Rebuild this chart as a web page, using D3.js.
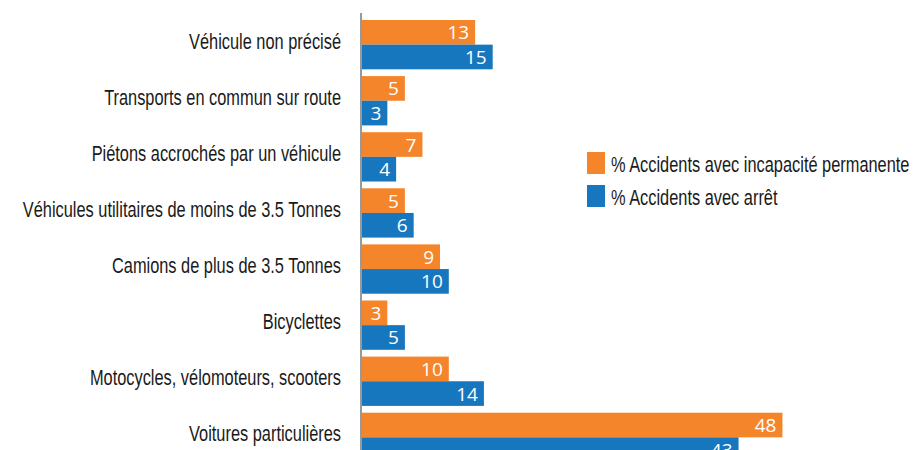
<!DOCTYPE html>
<html>
<head>
<meta charset="utf-8">
<script src="https://cdn.jsdelivr.net/npm/d3@7"></script>
<style>
  body { margin: 0; background: #fff; }
  svg { display: block; }
  .cat-label { font-family: "Liberation Sans", Arial, sans-serif; fill: #1a1a1a; }
  .value-label { font-family: "Open Sans", sans-serif; fill: #fff; }
  .legend-label { font-family: "Liberation Sans", Arial, sans-serif; fill: #1a1a1a; }
</style>
</head>
<body>
<div id="chart"></div>
<script>
const categories = [
  'Véhicule non précisé',
  'Transports en commun sur route',
  'Piétons accrochés par un véhicule',
  'Véhicules utilitaires de moins de 3.5 Tonnes',
  'Camions de plus de 3.5 Tonnes',
  'Bicyclettes',
  'Motocycles, vélomoteurs, scooters',
  'Voitures particulières'
];
const incapaciteValues = [13, 5, 7, 5, 9, 3, 10, 48];
const arretValues = [15, 3, 4, 6, 10, 5, 14, 43];
const seriesNames = ['% Accidents avec incapacité permanente', '% Accidents avec arrêt'];
const seriesColors = ['#f5852a', '#1777be'];

const width = 916;
const height = 450;
const axisX = 361;
// the source uses a condensed face; squeeze a regular one to match
const CONDENSE = 0.745;

const svg = d3.select('#chart')
  .append('svg')
  .attr('width', width)
  .attr('height', height);

const x = d3.scaleLinear().domain([0, 50]).range([axisX, axisX + 50 * 8.78]);
const y = d3.scaleBand().domain(categories).range([20, 462]).paddingInner(0.121).paddingOuter(0);
const ySub = d3.scaleBand().domain([0, 1]).range([0, y.bandwidth()]);

const rows = categories.map((cat, i) => ({
  cat,
  values: [incapaciteValues[i], arretValues[i]]
}));

const groups = svg.selectAll('.group')
  .data(rows)
  .enter()
  .append('g')
  .attr('class', 'group')
  .attr('transform', (d) => `translate(0,${y(d.cat)})`);

groups.selectAll('rect')
  .data((d) => d.values)
  .enter()
  .append('rect')
  .attr('x', x(0))
  .attr('y', (_, i) => ySub(i))
  .attr('width', (d) => x(d) - x(0))
  .attr('height', ySub.bandwidth())
  .attr('fill', (_, i) => seriesColors[i]);

groups.selectAll('.value-label')
  .data((d) => d.values)
  .enter()
  .append('text')
  .attr('class', 'value-label')
  .attr('x', (d) => x(d) - 6)
  .attr('y', (_, i) => ySub(i) + ySub.bandwidth() / 2 + 7)
  .attr('text-anchor', 'end')
  .attr('font-size', 19)
  .text((d) => d);

groups.append('text')
  .attr('class', 'cat-label')
  .attr('transform', `translate(${axisX - 20},${y.bandwidth() / 2 + 4}) scale(${CONDENSE},1)`)
  .attr('text-anchor', 'end')
  .attr('font-size', 22)
  .text((d) => d.cat);

// axis line
svg.append('line')
  .attr('x1', axisX)
  .attr('x2', axisX)
  .attr('y1', 13)
  .attr('y2', height)
  .attr('stroke', '#999')
  .attr('stroke-width', 2);

// legend
const legend = svg.append('g').attr('transform', 'translate(587,152)');
seriesNames.forEach((name, i) => {
  legend.append('rect')
    .attr('x', 0)
    .attr('y', i * 33)
    .attr('width', 18)
    .attr('height', 22)
    .attr('fill', seriesColors[i]);
  legend.append('text')
    .attr('class', 'legend-label')
    .attr('transform', `translate(24,${i * 33 + 20}) scale(${CONDENSE},1)`)
    .attr('font-size', 22)
    .text(name);
});
</script>
</body>
</html>
